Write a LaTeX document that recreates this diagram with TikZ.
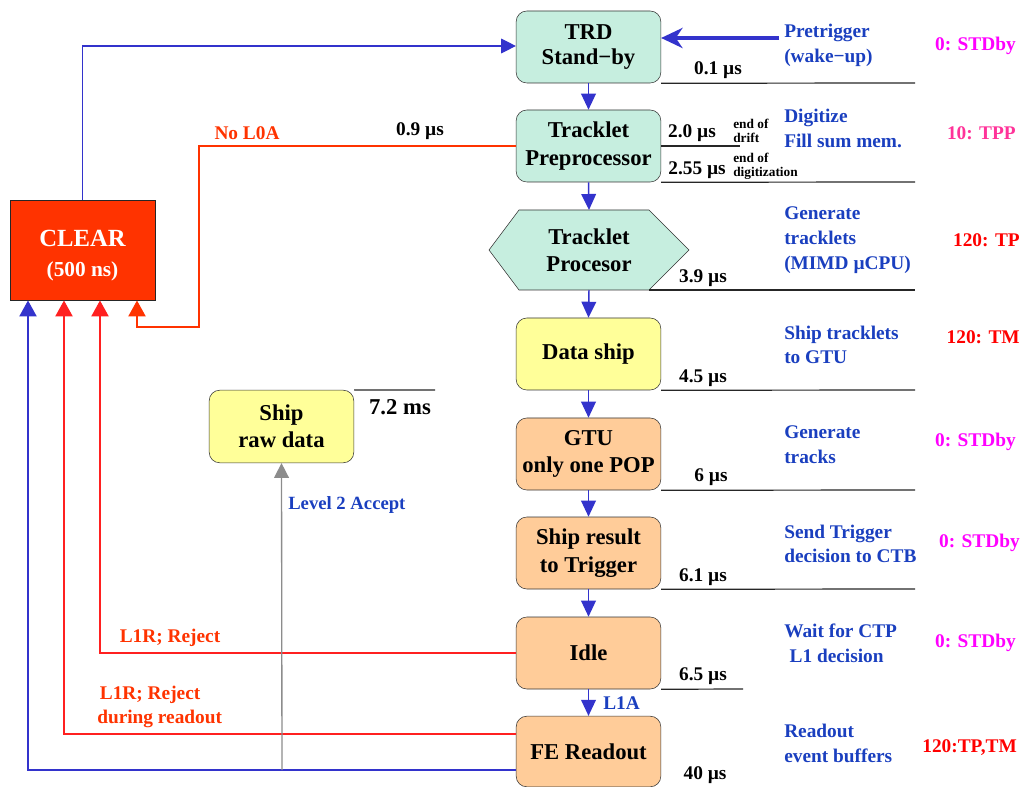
\documentclass[tikz,border=0pt]{standalone}
\usepackage{fontspec}
\setmainfont{Liberation Serif}
\usetikzlibrary{arrows.meta,calc}
\definecolor{mint}{HTML}{C6EEDF}
\definecolor{lyel}{HTML}{FFFF99}
\definecolor{lora}{HTML}{FFCC99}
\definecolor{clr}{HTML}{FF3300}
\definecolor{lblue}{HTML}{3333CC}
\definecolor{tblue}{HTML}{1A3FBF}
\definecolor{lred}{HTML}{FF2020}
\definecolor{mag}{HTML}{FF00FF}
\definecolor{pnk}{HTML}{FF3399}
\tikzset{
  box/.style={draw=black!80, rounded corners=8pt, minimum width=108.5pt, minimum height=54pt, align=center, font=\fontsize{17}{20.5}\selectfont\bfseries, inner sep=0pt},
  desc/.style={anchor=west, align=left, text=tblue, font=\fontsize{14.5}{18.5}\selectfont\bfseries, inner sep=0pt},
  state/.style={anchor=east, font=\fontsize{14.5}{17}\selectfont\bfseries, inner sep=0pt},
  tlab/.style={font=\fontsize{14.5}{16}\selectfont\bfseries, inner sep=0pt},
  small/.style={anchor=west, align=left, font=\fontsize{10}{10.5}\selectfont\bfseries, inner sep=0pt},
  tline/.style={draw=black!85, line width=0.9pt},
  flow/.style={draw=lblue, line width=1.1pt, -{Triangle[length=12pt,width=11pt]}},
  redlab/.style={text=clr, font=\fontsize{14.5}{18.5}\selectfont\bfseries, inner sep=0pt, align=left},
}
\begin{document}
\begin{tikzpicture}[x=0.75pt,y=-0.75pt]
\useasboundingbox (0,0) rectangle (1027,787);
% main boxes
\node[box, fill=mint, font=\fontsize{17}{19}\selectfont\bfseries] (trd) at (588.5,47) {TRD\\Stand−by};
\node[box, fill=mint] (tpp) at (588.5,146) {Tracklet\\Preprocessor};
\node[inner sep=0pt, minimum width=150pt, minimum height=60pt] (tp) at (589,250) {};
\draw[draw=black!80, fill=mint] ($(tp.center)+(-100,0)$) -- ++(30,-40) -- ++(130,0) -- ++(40,40) -- ++(-40,40) -- ++(-130,0) -- cycle;
\node[align=center, font=\fontsize{17}{20.5}\selectfont\bfseries] (tptxt) at (tp.center) {Tracklet\\Procesor};
\node[box, fill=lyel] (ds) at (588.5,354) {Data ship};
\node[box, fill=lora] (gtu) at (588.5,454) {GTU\\only one POP};
\node[box, fill=lora] (sr) at (588.5,553) {Ship result\\to Trigger};
\node[box, fill=lora] (idle) at (588.5,653) {Idle};
\node[box, fill=lora, minimum height=53pt] (fe) at (588.5,751.5) {FE Readout};
\node[box, fill=lyel, minimum height=54.5pt] (raw) at (281.5,426.5) {Ship\\raw data};
\node[draw=black!85, fill=clr, minimum width=108.5pt, minimum height=75pt, inner sep=0pt] (clear) at (82.5,250) {};
\node[align=center, text=white, inner sep=0pt] (cleartxt) at (82.5,255.5) {\fontsize{18.5}{22}\selectfont\bfseries CLEAR\\[11pt]\fontsize{16}{19}\selectfont\bfseries (500 ns)};

% timeline lines
\draw[tline] (trd.south east) -- (915,83);
\draw[tline] (661,146) -- (740,146);
\draw[tline] (tpp.south east) -- (915,182);
\draw[tline] (649,290) -- (915,290);
\draw[tline] (ds.south east) -- (915,390);
\draw[tline] (gtu.south east) -- (915,490);
\draw[tline] (sr.south east) -- (915,589);
\draw[tline] (idle.south east) -- (743,689);
\draw[tline] (raw.north east) -- (435,390);

% time labels
\node[tlab] at (718,70) {0.1 µs};
\node[tlab] at (692,133) {2.0 µs};
\node[tlab] at (697,170) {2.55 µs};
\node[small] at (733,131) {end of\\drift};
\node[small] at (733,166) {end of\\digitization};
\node[tlab] at (420,131) {0.9 µs};
\node[tlab] at (703,278) {3.9 µs};
\node[tlab] at (703,378) {4.5 µs};
\node[tlab] at (711,477) {6 µs};
\node[tlab] at (703,577) {6.1 µs};
\node[tlab] at (703,676) {6.5 µs};
\node[tlab] at (705,775) {40 µs};
\node[tlab, font=\fontsize{17}{19}\selectfont\bfseries] at (400,407) {7.2 ms};

% descriptions
\node[desc] (d0) at (784,45.5) {Pretrigger\\(wake−up)};
\node[desc] at (784,128.5) {Digitize\\Fill sum mem.};
\node[desc] at (784,240) {Generate\\tracklets\\(MIMD µCPU)};
\node[desc] at (784,345) {Ship tracklets\\to GTU};
\node[desc] at (784,444.5) {Generate\\tracks};
\node[desc] at (784,544) {Send Trigger\\decision to CTB};
\node[desc] at (784,643) {Wait for CTP\\\hspace{4pt}L1 decision};
\node[desc] at (784,743.5) {Readout\\event buffers};

% states
\node[state, text=mag] at (1016,46) {0: STDby};
\node[state, text=pnk] at (1016,133) {10: TPP};
\node[state, text=red] at (1020,240) {120: TP};
\node[state, text=red] at (1020,337) {120: TM};
\node[state, text=mag] at (1016,442) {0: STDby};
\node[state, text=mag] at (1020,543) {0: STDby};
\node[state, text=mag] at (1016,643) {0: STDby};
\node[state, text=red] at (1017,748) {120:TP,TM};

% flow arrows
\draw[flow] (trd.south) -- (tpp.north);
\draw[flow] (tpp.south) -- (589,210);
\draw[flow] (589,290) -- (ds.north);
\draw[flow] (ds.south) -- (gtu.north);
\draw[flow] (gtu.south) -- (sr.north);
\draw[flow] (sr.south) -- (idle.north);
\draw[flow] (idle.south) -- (fe.north);
\node[anchor=west, text=tblue, font=\fontsize{14.5}{17}\selectfont\bfseries, inner sep=0pt] at (603,703) {L1A};

% pretrigger
\coordinate (pt) at (779,38);
\draw[draw=lblue, line width=3.2pt, -{Stealth[length=16pt,width=15pt,inset=5pt]}] (pt) -- (trd.east |- pt);

% clear -> trd
\draw[draw=lblue, line width=0.9pt, -{Triangle[length=11pt,width=11pt]}] (clear.north) |- (trd.west |- 0,46);

% No L0A
\draw[draw=clr, line width=1.1pt, -{Triangle[length=12pt,width=13pt]}] (tpp.west) -- (199,146) -- (199,327) -- (137,327) -- (137,300.5);
\node[redlab] at (247,133) {No L0A};

% L1R reject
\draw[draw=lred, line width=1.1pt, -{Triangle[length=12pt,width=13pt]}] (idle.west) -- (100,653) -- (100,300.5);
\node[redlab] at (170,638) {L1R; Reject};

% L1R reject during readout
\draw[draw=lred, line width=1.1pt, -{Triangle[length=12pt,width=13pt]}] (fe.west |- 0,734) -- (64,734) -- (64,300.5);
\node[redlab, anchor=west] at (97,707) {\hspace{2pt}L1R; Reject\\during readout};

% blue return
\draw[draw=lblue, line width=1.1pt, -{Triangle[length=12pt,width=13pt]}] (fe.west |- 0,770) -- (28,770) -- (28,300.5);

% level 2 accept
\coordinate (l2) at (282,770);
\draw[draw=black!45, line width=1pt, -{Triangle[length=11pt,width=11pt]}] (l2) -- (raw.south);
\node[anchor=west, text=tblue, font=\fontsize{14}{17}\selectfont\bfseries, inner sep=0pt] at (288,505) {Level 2 Accept};
\end{tikzpicture}
\end{document}
